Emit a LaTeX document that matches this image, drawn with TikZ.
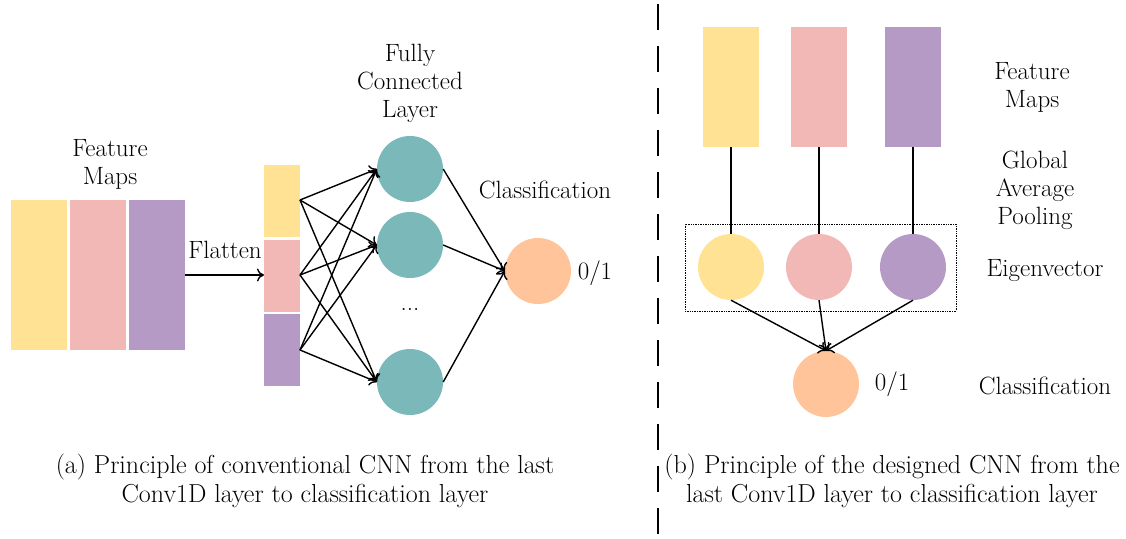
\documentclass[tikz,border=0pt]{standalone}
\usetikzlibrary{arrows.meta}
\definecolor{cyel}{RGB}{255,226,148}
\definecolor{cpink}{RGB}{242,184,181}
\definecolor{cpur}{RGB}{180,154,196}
\definecolor{cteal}{RGB}{122,184,185}
\definecolor{corg}{RGB}{255,196,153}
\begin{document}
\begin{tikzpicture}[x=1pt,y=-1pt,
  lbl/.style={font=\fontsize{25}{28}\selectfont, align=center, inner sep=0pt},
  captxt/.style={font=\fontsize{26}{29}\selectfont, align=center, inner sep=0pt},
  blk/.style={inner sep=0pt, outer sep=0pt, minimum width=56pt},
  neu/.style={circle, inner sep=0pt, minimum size=66pt},
  arr/.style={line width=1.4pt, -{To[length=7pt,width=13pt]}},
  ln/.style={line width=1.4pt}]
\useasboundingbox (0,0) rectangle (1126,538);
% left feature maps
\node[blk, fill=cyel, minimum height=150pt] (fy) at (39,275) {};
\node[blk, fill=cpink, minimum height=150pt] (fp) at (98,275) {};
\node[blk, fill=cpur, minimum height=150pt] (fu) at (157,275) {};
\node[lbl] (fmL) at (110,164) {Feature\\Maps};
% flattened
\node[blk, minimum width=36pt, fill=cyel, minimum height=72pt] (sy) at (282,201) {};
\node[blk, minimum width=36pt, fill=cpink, minimum height=72pt] (sp) at (282,276) {};
\node[blk, minimum width=36pt, fill=cpur, minimum height=72pt] (su) at (282,350) {};
\draw[arr] (fu.east |- 0,275) coordinate (fa) -- (sp.west |- 0,275) coordinate (fb);
\node[lbl] (flat) at (225,250) {Flatten};
% FC layer
\node[neu, fill=cteal] (n1) at (410,169) {};
\node[neu, fill=cteal] (n2) at (410,245) {};
\node[neu, fill=cteal] (n3) at (410,382) {};
\node[lbl] (dots) at (410,309) {...};
\node[lbl] (fcl) at (410,83) {Fully\\Connected\\Layer};
\coordinate (o1) at (300,200);
\coordinate (o2) at (300,275);
\coordinate (o3) at (300,350);
\foreach \o in {o1,o2,o3}{
  \foreach \n in {n1,n2,n3}{
    \draw[arr] (\o) -- (\n.west);
  }
}
\node[neu, fill=corg] (cl) at (538,271) {};
\foreach \n in {n1,n2,n3}{ \draw[arr] (\n.east) -- (cl.west); }
\node[lbl] (clsL) at (545,190) {Classification};
\node[lbl] (o1L) at (595,273) {0/1};
% divider
\coordinate (d1) at (658,4);
\coordinate (d2) at (658,538);
\draw[line width=1.6pt, dash pattern=on 26pt off 16pt] (d1) -- (d2);
% right
\node[blk, fill=cyel, minimum height=120pt] (ry) at (731,87) {};
\node[blk, fill=cpink, minimum height=120pt] (rp) at (819,87) {};
\node[blk, fill=cpur, minimum height=120pt] (ru) at (913,87) {};
\node[neu, fill=cyel] (ey) at (731,267) {};
\node[neu, fill=cpink] (ep) at (819,267) {};
\node[neu, fill=cpur] (eu) at (913,267) {};
\draw[ln] (ry.south) -- (ey.north);
\draw[ln] (rp.south) -- (ep.north);
\draw[ln] (ru.south) -- (eu.north);
\node[draw, densely dotted, line width=0.7pt, minimum width=271pt, minimum height=87pt, inner sep=0pt] (box) at (820.5,267.5) {};
\node[neu, fill=corg] (cr) at (826,384) {};
\draw[arr] (ey.south) -- (cr.north);
\draw[arr] (ep.south) -- (cr.north);
\draw[arr] (eu.south) -- (cr.north);
\node[lbl] (fmR) at (1032,87) {Feature\\Maps};
\node[lbl] (gap) at (1035,190) {Global\\Average\\Pooling};
\node[lbl] (eig) at (1045,271) {Eigenvector};
\node[lbl] (o2L) at (892,384) {0/1};
\node[lbl] (clsR) at (1045,386) {Classification};
% captions
\node[captxt] (capa) at (305,481) {(a) Principle of conventional CNN from the last\\Conv1D layer to classification layer};
\node[captxt] (capb) at (892,481) {(b) Principle of the designed CNN from the\\last Conv1D layer to classification layer};
\end{tikzpicture}
\end{document}
